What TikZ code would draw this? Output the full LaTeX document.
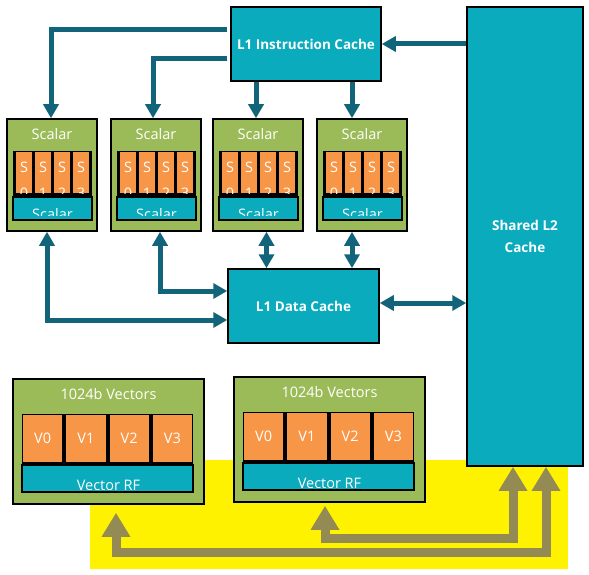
\documentclass[tikz,border=0pt]{standalone}
\usepackage{fontspec}
\setmainfont{Open Sans}
\usetikzlibrary{arrows.meta}
\definecolor{coregreen}{HTML}{9BBB59}
\definecolor{regorange}{HTML}{F79646}
\definecolor{cachecyan}{HTML}{0AABBC}
\definecolor{busteal}{HTML}{12647A}
\definecolor{busolive}{HTML}{948A54}
\tikzset{
  box/.style={draw=black, line width=1.5pt, text=white, inner sep=0pt},
  corebox/.style={box, fill=coregreen, minimum width=90pt, minimum height=112pt},
  cache/.style={box, fill=cachecyan, font=\fontsize{13.5}{15}\selectfont\bfseries},
  lbl/.style={text=white, inner sep=0pt, font=\fontsize{14.5}{16}\selectfont},
  bus/.style={draw=busteal, line width=5pt, -{Triangle[width=15pt,length=14pt]}},
  dbus/.style={draw=busteal, line width=5pt, {Triangle[width=15pt,length=14pt]}-{Triangle[width=15pt,length=14pt]}},
  vbus/.style={draw=busolive, line width=9pt, {Triangle[width=27pt,length=24pt]}-{Triangle[width=27pt,length=24pt]}},
}
\begin{document}
\begin{tikzpicture}[x=1pt,y=-1pt]
  \useasboundingbox (0,0) rectangle (589,575);
  \fill[yellow] (90,460) rectangle (568,569);

  \node[cache, minimum width=150pt, minimum height=74pt] (ic) at (306,44) {L1 Instruction Cache};
  \node[cache, minimum width=116pt, minimum height=459pt, align=center] (l2) at (525,236.5) {Shared L2\\[7pt]Cache};
  \node[cache, minimum width=151pt, minimum height=74pt] (l1d) at (303.5,306) {L1 Data Cache};

  \foreach \i/\x in {1/7,2/111,3/213,4/317}{
    \node[corebox] (c\i) at (\x+45,175) {};
    \node[lbl] (ct\i) at (\x+45,134) {Scalar};
    \fill[black] (\x+6,151) rectangle (\x+85,196);
    \foreach \k in {0,...,3}
      \fill[regorange] (\x+9+19*\k,152) rectangle ++(16,41);
    \begin{scope}
      \clip (\x+6,151) rectangle (\x+85,193);
      \foreach \k in {0,...,3}{
        \node[lbl] (s\i\k) at (\x+17+19*\k,167) {S};
        \node[lbl] (d\i\k) at (\x+17+19*\k,193.5) {\k};
      }
    \end{scope}
    \draw[fill=cachecyan, line width=2pt] (\x+6,197) rectangle (\x+85,220);
    \begin{scope}
      \clip (\x+7,198) rectangle (\x+84,215);
      \node[lbl, anchor=base] (rf\i) at (\x+45.5,219) {Scalar};
    \end{scope}
  }

  \foreach \j/\dx/\dy in {1/0/0,2/221/-2}{
    \begin{scope}[shift={(\dx,\dy)}]
      \node[corebox, minimum width=191pt, minimum height=125pt] (v\j) at (108.5,441.5) {};
      \node[lbl] (vt\j) at (108.5,394) {1024b Vectors};
      \fill[black] (22,414) rectangle (193,493);
      \foreach \k in {0,...,3}{
        \fill[regorange] (23+43.25*\k,415) rectangle ++(39.25,47);
        \node[lbl] (vr\j\k) at (42.6+43.25*\k,438) {V\k};
      }
      \draw[fill=cachecyan, line width=2pt] (22,465) rectangle (193,492);
      \begin{scope}
        \clip (23,466) rectangle (192,489);
        \node[lbl, anchor=base] (vrf\j) at (108.5,490) {Vector RF};
      \end{scope}
    \end{scope}
  }

  \draw[bus] ([xshift=-3pt,yshift=14pt]ic.west) -| ([xshift=-1pt]c1.north);
  \draw[bus] ([xshift=-3pt,yshift=-15pt]ic.west) -| ([xshift=-3pt]c2.north);
  \draw[bus] ([xshift=-2pt]c3.north |- ic.south) -- ([xshift=-2pt]c3.north);
  \draw[bus] ([xshift=-10pt]c4.north |- ic.south) -- ([xshift=-10pt]c4.north);
  \draw[bus] (l2.west |- ic.east) -- (ic.east);

  \draw[dbus] ([xshift=-5pt]c1.south) |- ([yshift=-14pt]l1d.west);
  \draw[dbus] ([xshift=4pt]c2.south) |- ([yshift=15pt]l1d.west);
  \draw[dbus] ([xshift=8.5pt]c3.south) -- ([xshift=8.5pt]c3.south |- l1d.north);
  \draw[dbus] ([xshift=-10pt]c4.south) -- ([xshift=-10pt]c4.south |- l1d.north);
  \draw[dbus] ([yshift=3pt]l1d.east) -- ([yshift=3pt]l1d.east -| l2.west);

  \coordinate (busa) at (0,552);
  \coordinate (busb) at (0,538);
  \coordinate (va) at ([xshift=7.5pt,yshift=-8pt]v1.south);
  \coordinate (vb) at ([xshift=-4.5pt,yshift=-3pt]v2.south);
  \draw[vbus] (va) -- (va |- busa) -| ([xshift=21pt]l2.south);
  \draw[vbus] (vb) -- (vb |- busb) -| ([xshift=-12pt]l2.south);
\end{tikzpicture}
\end{document}
